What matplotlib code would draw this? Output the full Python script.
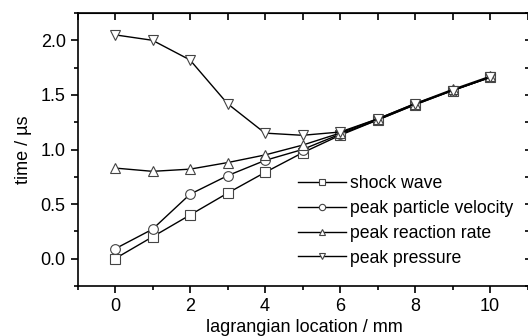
import matplotlib
matplotlib.use("Agg")
import matplotlib.pyplot as plt
from matplotlib.ticker import MultipleLocator

plt.rcParams['font.family'] = ['Liberation Sans', 'DejaVu Sans']

# data
x = [0, 1, 2, 3, 4, 5, 6, 7, 8, 9, 10]
shock = [0.0, 0.20, 0.40, 0.60, 0.79, 0.97, 1.13, 1.27, 1.41, 1.54, 1.66]
velocity = [0.09, 0.27, 0.59, 0.76, 0.90, 1.00, 1.14, 1.27, 1.41, 1.54, 1.66]
reaction = [0.83, 0.80, 0.82, 0.88, 0.95, 1.04, 1.15, 1.28, 1.42, 1.55, 1.67]
pressure = [2.05, 2.00, 1.82, 1.42, 1.15, 1.13, 1.16, 1.28, 1.42, 1.54, 1.66]
labels = ["shock wave", "peak particle velocity", "peak reaction rate", "peak pressure"]
markers = ["s", "o", "^", "v"]

fig = plt.figure(figsize=(5.28, 3.36), dpi=100)
ax = fig.add_axes([77.5/528, 1 - 286/336, 453/528, 273/336])

for ys, m, lab in zip([shock, velocity, reaction, pressure], markers, labels):
	ax.plot(x, ys, color="black", lw=1.0, marker=m, ms=7, mfc="white",
		mec="#444444", mew=0.8, label=lab)

ax.set_xlim(-1, 11.08)
ax.set_ylim(-0.25, 2.25)
ax.xaxis.set_major_locator(MultipleLocator(2))
ax.xaxis.set_minor_locator(MultipleLocator(1))
ax.yaxis.set_major_locator(MultipleLocator(0.5))
ax.yaxis.set_minor_locator(MultipleLocator(0.25))
ax.tick_params(which="both", direction="out", labelsize=13, width=1.2)
ax.tick_params(which="major", length=5)
ax.tick_params(which="minor", length=3)
for s in ax.spines.values():
	s.set_linewidth(1.2)

# mirrored ticks on top / right, pointing inward
top = ax.secondary_xaxis("top")
top.xaxis.set_major_locator(MultipleLocator(1))
top.tick_params(direction="in", length=5, width=1.2, labeltop=False)
right = ax.secondary_yaxis("right")
right.yaxis.set_major_locator(MultipleLocator(0.25))
right.tick_params(direction="in", length=4, width=1.2, labelright=False)

ax.set_xlabel("lagrangian location / mm", fontsize=13, labelpad=3)
ax.set_ylabel("time / µs", fontsize=13, labelpad=6)

ax.legend(loc="lower left", bbox_to_anchor=(0.472, 0.045), frameon=False,
	fontsize=12.7, handlelength=2.7, markerscale=0.65, labelspacing=0.45,
	handletextpad=0.25, borderaxespad=0.0)

fig.savefig("out.png", dpi=100)
